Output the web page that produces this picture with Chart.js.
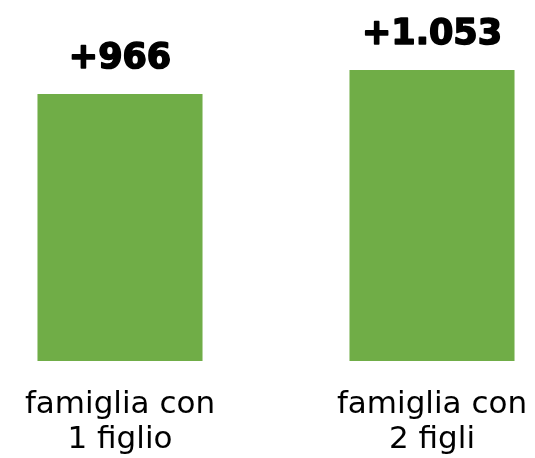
<!DOCTYPE html>
<html><head><meta charset="utf-8">
<script src="https://cdn.jsdelivr.net/npm/chart.js@4.4.0/dist/chart.umd.min.js"></script>
<style>
html,body{margin:0;padding:0;background:#fff;overflow:hidden;width:535px;height:458px;}
#wrap{position:absolute;left:-36.5px;top:0;width:624px;height:458px;}
</style></head>
<body><div id="wrap"><canvas id="c" width="624" height="458"></canvas></div>
<script>
const categories = [["famiglia con","1 figlio"],["famiglia con","2 figli"]];
const values = [966, 1053];
const valueLabels = ["+966", "+1.053"];

const labelPlugin = {
  id: 'valueLabels',
  afterDatasetsDraw(chart) {
    const ctx = chart.ctx;
    const meta = chart.getDatasetMeta(0);
    ctx.save();
    ctx.font = 'bold 35px "DejaVu Sans"';
    ctx.fillStyle = '#000';
    ctx.strokeStyle = '#000';
    ctx.lineWidth = 1.6;
    ctx.lineJoin = 'round';
    ctx.textAlign = 'center';
    ctx.textBaseline = 'alphabetic';
    meta.data.forEach((bar, i) => {
      ctx.fillText(valueLabels[i], bar.x, bar.y - 26);
      ctx.strokeText(valueLabels[i], bar.x, bar.y - 26);
    });
    ctx.restore();
  }
};

new Chart(document.getElementById('c'), {
  type: 'bar',
  data: {
    labels: categories,
    datasets: [{
      data: values,
      backgroundColor: '#70AD47',
      borderWidth: 0,
      categoryPercentage: 1,
      barPercentage: 0.529
    }]
  },
  options: {
    responsive: false,
    animation: false,
    layout: { padding: 0 },
    plugins: { legend: { display: false }, tooltip: { enabled: false } },
    scales: {
      x: {
        grid: { display: false, drawTicks: false },
        border: { display: false },
        ticks: {
          color: '#000',
          font: { family: 'DejaVu Sans', size: 31, lineHeight: 1.13 },
          padding: 26,
          maxRotation: 0,
          autoSkip: false
        },
        afterFit(scale) { scale.height = 97; }
      },
      y: {
        display: false,
        min: 0,
        max: 1306
      }
    }
  },
  plugins: [labelPlugin]
});
</script>
</body></html>
